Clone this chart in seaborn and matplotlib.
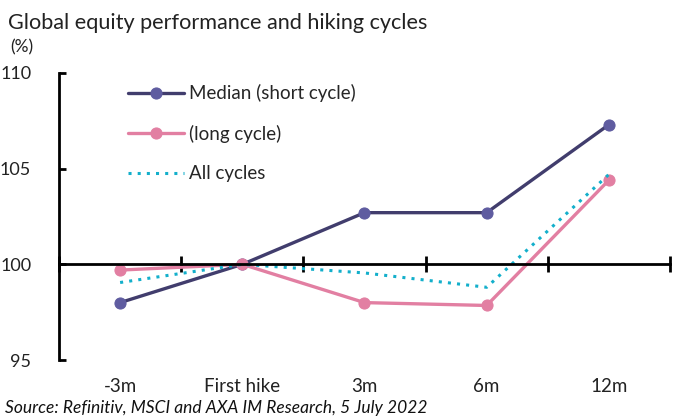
import matplotlib
matplotlib.use("Agg")
import matplotlib.pyplot as plt
import seaborn as sns
import pandas as pd
import numpy as np

categories = ["-3m", "First hike", "3m", "6m", "12m"]
median_short = [98.0, 100.0, 102.7, 102.7, 107.3]
long_cycle = [99.7, 100.0, 98.0, 97.85, 104.4]
all_cycles = [99.05, 100.0, 99.55, 98.8, 104.7]

sns.set_theme(style="white")
plt.rcParams['font.family'] = ['Lato', 'DejaVu Sans']

fig = plt.figure(figsize=(6.73, 4.19), dpi=100)
ax = fig.add_axes([0.0877, 0.1408, 0.9078, 0.685])

pos = np.arange(len(categories))
sns.lineplot(x=pos, y=median_short, ax=ax, color="#413d6d", lw=2.4,
             marker="o", markersize=8, markerfacecolor="#5f5ca0",
             markeredgecolor="#5f5ca0", label="Median (short cycle)")
sns.lineplot(x=pos, y=long_cycle, ax=ax, color="#e27fa2", lw=2.4,
             marker="o", markersize=8, markerfacecolor="#e27fa2",
             markeredgecolor="#e27fa2", label="(long cycle)")
sns.lineplot(x=pos, y=all_cycles, ax=ax, color="#13afcb", lw=2.2,
             linestyle=(0, (1, 2.0)), label="All cycles")

ax.set_xlim(-0.5, len(categories) - 0.5)
ax.set_ylim(95, 110)
ax.set_yticks([95, 100, 105, 110])
ax.tick_params(axis="y", left=True, direction="in", length=5, width=2,
               labelsize=13, color="black", labelcolor="#222222", pad=20)

for s in ["top", "right"]:
    ax.spines[s].set_visible(False)
ax.spines["left"].set_linewidth(2)
ax.spines["left"].set_color("black")
ax.spines["bottom"].set_position(("data", 100))
ax.spines["bottom"].set_linewidth(2)
ax.spines["bottom"].set_color("black")

ax.set_xticks(pos)
ax.set_xticklabels(categories)
ax.set_xticks(np.arange(-0.5, len(categories)), minor=True)
ax.tick_params(axis="x", which="major", length=0, labelsize=13.5,
               labelcolor="#222222", pad=82)
ax.tick_params(axis="x", which="minor", direction="inout", length=11,
               width=2, color="black", bottom=True)
ax.set_xlabel("")
ax.set_ylabel("")

leg = ax.legend(loc="upper left", bbox_to_anchor=(0.085, 1.02), frameon=False,
                fontsize=13.5, handlelength=3.0, handletextpad=0.25,
                labelspacing=1.2)

fig.text(0.012, 0.945, "Global equity performance and hiking cycles",
         fontsize=15.6, color="#222222", ha="left", va="center")
fig.text(0.015, 0.888, "(%)", fontsize=12.5, color="#222222", ha="left", va="center")
fig.text(0.008, 0.026, "Source: Refinitiv, MSCI and AXA IM Research, 5 July 2022",
         fontsize=12.5, style="italic", color="#111111", ha="left", va="center")

fig.savefig("out.png", dpi=100)
